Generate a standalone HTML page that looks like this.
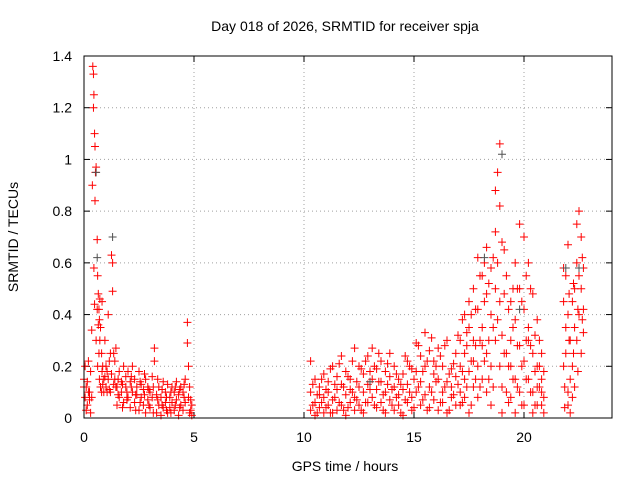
<!DOCTYPE html>
<html><head><meta charset="utf-8"><style>
body{margin:0;background:#fff}
svg{display:block;font-family:"Liberation Sans",sans-serif}
</style></head><body>
<svg id="chart" width="640" height="480">
<text x="345" y="31" font-size="14" text-anchor="middle">Day 018 of 2026, SRMTID for receiver spja</text>
<text x="345" y="471" font-size="14" text-anchor="middle">GPS time / hours</text>
<text x="18" y="237" font-size="14" text-anchor="middle" transform="rotate(-90 18 237)">SRMTID / TECUs</text>
<g id="grid"></g><g id="marks"></g>
<rect x="84" y="56" width="528" height="362" fill="none" stroke="#000"/>
</svg>
<script>
const xTicks=[0,5,10,15,20];
const yTicks=[0,0.2,0.4,0.6,0.8,1,1.2,1.4];
const yTickLabels=["0","0.2","0.4","0.6","0.8","1","1.2","1.4"];
const times=[0,0.05,0.1,0.15,0.2,0.25,0.3,0.35,0.38,0.4,0.43,0.45,0.48,0.5,0.52,0.55,0.6,0.62,0.65,0.68,0.7,0.72,0.75,0.8,0.82,0.85,0.9,0.95,1.0,1.05,1.1,1.15,1.2,1.25,1.3,1.35,1.4,1.45,
1.5,1.6,1.7,1.8,1.9,2.0,2.1,2.2,2.3,2.4,2.5,2.6,2.7,2.8,2.9,3.0,3.1,3.2,3.3,3.4,3.5,3.6,3.7,3.8,3.9,4.0,4.1,4.2,4.3,4.4,4.5,4.6,4.7,4.75,4.8,4.9,
10.3,10.5,10.7,10.9,11.1,11.3,11.5,11.7,11.9,12.1,12.3,12.5,12.7,12.9,13.1,13.3,13.5,13.7,13.9,14.1,14.3,14.5,14.7,14.9,15.1,15.3,15.5,15.7,15.9,16.1,16.3,16.5,16.7,16.9,
17.1,17.3,17.5,17.7,17.9,18.1,18.3,18.5,18.7,18.8,18.9,19.0,19.2,19.4,19.6,19.8,20.0,20.2,20.4,20.6,20.8,
21.8,21.9,22.0,22.1,22.2,22.3,22.4,22.5,22.6,22.7];
const valueGroups=[[.15,.12],[.2,.08],[.12,.03],[.05,.14],[.22,.1],[.1,.07],[.02,.18],[.08,.34],[.9],[1.36],[1.33,1.2],[1.25,.58],[1.1,.44],[1.05,.84],[.95],[.97,.3],[.69,.42],[.55,.2],[.48,.36],[.42,.25],[.38,.15],[.3,.46],[.35,.12],[.25,.1],[.45,.18],[.2,.13],[.15,.1],[.3,.16],[.12,.2],[.18,.1],[.4,.15],[.22,.11],[.1,.25],[.63,.17],[.6,.49],[.25,.13],[.15,.22],[.27,.12],
[.12,.05],[.18,.08],[.1,.14],[.2,.06],[.12,.16],[.08,.18],[.14,.04],[.1,.2],[.06,.15],[.12,.09],[.18,.03],[.08,.13],[.11,.05],[.15,.02],[.07,.12],[.1,.04],[.16,.08],[.27,.22],[.09,.02],[.05,.12],[.08,.01],[.14,.04],[.06,.1],[.02,.13],[.08,.04],[.12,.06],[.03,.1],[.07,.14],[.01,.09],[.05,.12],[.1,.03],[.15,.06],[.37,.29],[.2,.08],[.02,.12],[.05,.01],
[.03,.1,.22],[.06,.15,.01],[.12,.04,.09],[.02,.08,.17],[.14,.05,.1],[.07,.2,.02],[.11,.03,.16],[.05,.13,.24],[.09,.01,.18],[.15,.06,.11],[.27,.08,.03],[.12,.2,.05],[.02,.1,.17],[.13,.24,.06],[.08,.27,.15],[.19,.04,.11],[.06,.22,.14],[.1,.02,.18],[.16,.07,.25],[.03,.12,.2],[.09,.05,.15],[.01,.17,.11],[.13,.06,.22],[.08,.19,.03],[.18,.1,.29],[.05,.24,.14],[.33,.09,.2],[.12,.26,.04],[.07,.17,.22],[.15,.03,.27],[.1,.2,.06],[.02,.14,.3],[.19,.08,.12],[.25,.05,.16],
[.1,.3,.2,.05],[.4,.15,.25,.08],[.35,.18,.02,.45],[.5,.3,.12,.22],[.62,.42,.2,.08],[.55,.35,.15,.28],[.66,.48,.25,.1],[.58,.4,.2,.05],[.88,.72,.5,.3],[.95,.6,.38],[1.06,.82,.45,.2],[.68,.32,.12,.02],[.55,.25,.1],[.45,.2,.08,.3],[.6,.38,.15,.02],[.75,.5,.28,.1],[.7,.42,.22,.05],[.6,.35,.15,.3],[.48,.25,.1,.02],[.38,.2,.12,.05],[.25,.15,.05,.1],
[.58,.45,.2],[.55,.35,.25],[.67,.4,.1,.05],[.3,.15,.02],[.45,.2,.08],[.5,.35,.12],[.75,.6,.3],[.8,.55,.4],[.7,.5,.25],[.58,.42,.33]];
const extraTimes=[1.55,1.75,1.95,2.15,2.35,2.55,2.75,2.95,3.15,3.35,3.55,3.75,3.95,4.15,4.35,4.55,4.85,
10.4,10.6,10.8,11.0,11.2,11.4,11.6,11.8,12.0,12.2,12.4,12.6,12.8,13.0,13.2,13.4,13.6,13.8,14.0,14.2,14.4,14.6,14.8,15.0,15.2,15.4,15.6,15.8,16.0,16.2,16.4,16.6,16.8,
17.0,17.2,17.4,17.6,17.8,18.0,18.2,18.4,18.6,19.1,19.3,19.5,19.7,19.9,20.1,20.3,20.5,20.7,20.9,21.85,22.05,22.25,22.45,22.65];
const extraGroups=[[.09,.15],[.13,.04],[.07,.1],[.16,.12],[.09,.03],[.14,.06],[.09,.17],[.05,.11],[.12,.02],[.07,.15],[.11,.05],[.08,.03],[.1,.02],[.05,.12],[.11,.04],[.08,.13],[.03,.07],
[.05,.13],[.09,.02],[.15,.06],[.11,.04],[.02,.19],[.08,.13],[.06,.21],[.12,.03],[.04,.16],[.1,.22],[.07,.14],[.19,.03],[.06,.22],[.11,.18],[.2,.05],[.14,.25],[.09,.03],[.21,.13],[.05,.11],[.17,.08],[.13,.02],[.07,.24],[.2,.1],[.04,.15],[.12,.28],[.18,.07],[.03,.22],[.1,.31],[.2,.14],[.06,.24],[.28,.12],[.17,.03],[.09,.21],[.32,.13],
[.18,.38,.06],[.28,.12,.33],[.22,.05,.4],[.42,.15,.28],[.55,.3,.12],[.45,.22,.6],[.52,.3,.15],[.62,.35,.12],[.48,.25,.65],[.42,.2,.06],[.35,.15,.5],[.28,.5,.12],[.45,.2,.05],[.55,.3,.15],[.5,.28,.1],[.32,.18,.05],[.3,.12,.2],[.18,.08,.02],[.12,.04],[.48,.3],[.52,.25],[.42,.18],[.62,.38],[.65,.45]];
const grayTimes=[0.6,0.55,1.3,19.0,18.2,22.5,21.9,19.8,13.0];
const grayValues=[0.62,0.95,0.7,1.02,0.62,0.58,0.58,0.42,0.14];
const NS="http://www.w3.org/2000/svg";
const X=h=>84+h*22, Y=v=>418-v*362/1.4;
const grid=document.getElementById('grid'), marks=document.getElementById('marks');
function mk(tag,at,parent){const e=document.createElementNS(NS,tag);for(const k in at)e.setAttribute(k,at[k]);parent.appendChild(e);return e;}
xTicks.forEach(t=>{
 const l=mk('line',{x1:X(t),x2:X(t),y1:56,y2:418,stroke:'#a0a0a0','stroke-dasharray':'1,3'},grid);
 
 
 mk('line',{x1:X(t),x2:X(t),y1:418,y2:412,stroke:'#000'},grid);
 mk('line',{x1:X(t),x2:X(t),y1:56,y2:62,stroke:'#000'},grid);
 const tx=mk('text',{x:X(t),y:442,'font-size':14,'text-anchor':'middle'},grid);tx.textContent=t;
 
 
});
yTicks.forEach((v,i)=>{
 const l=mk('line',{x1:84,x2:612,y1:Y(v),y2:Y(v),stroke:'#a0a0a0','stroke-dasharray':'1,3'},grid);
 
 
 mk('line',{x1:84,x2:90,y1:Y(v),y2:Y(v),stroke:'#000'},grid);
 mk('line',{x1:606,x2:612,y1:Y(v),y2:Y(v),stroke:'#000'},grid);
 const tx=mk('text',{x:72,y:Y(v)+5,'font-size':14,'text-anchor':'end'},grid);tx.textContent=yTickLabels[i];
 
 
});
function plus(h,v,c,name){
 const x=X(h),y=Y(v);
 const p=mk('path',{d:`M${x-4} ${y}H${x+4}M${x} ${y-4}V${y+4}`,stroke:c,'stroke-width':1,fill:'none'},marks);
 
 
}
times.forEach((t,i)=>valueGroups[i].forEach(v=>plus(t,v,'#ff0000','srmtid-point')));
extraTimes.forEach((t,i)=>extraGroups[i].forEach(v=>plus(t,v,'#ff0000','srmtid-point')));
grayTimes.forEach((t,i)=>plus(t,grayValues[i],'#505050','srmtid-point-gray'));
</script>
</body></html>
